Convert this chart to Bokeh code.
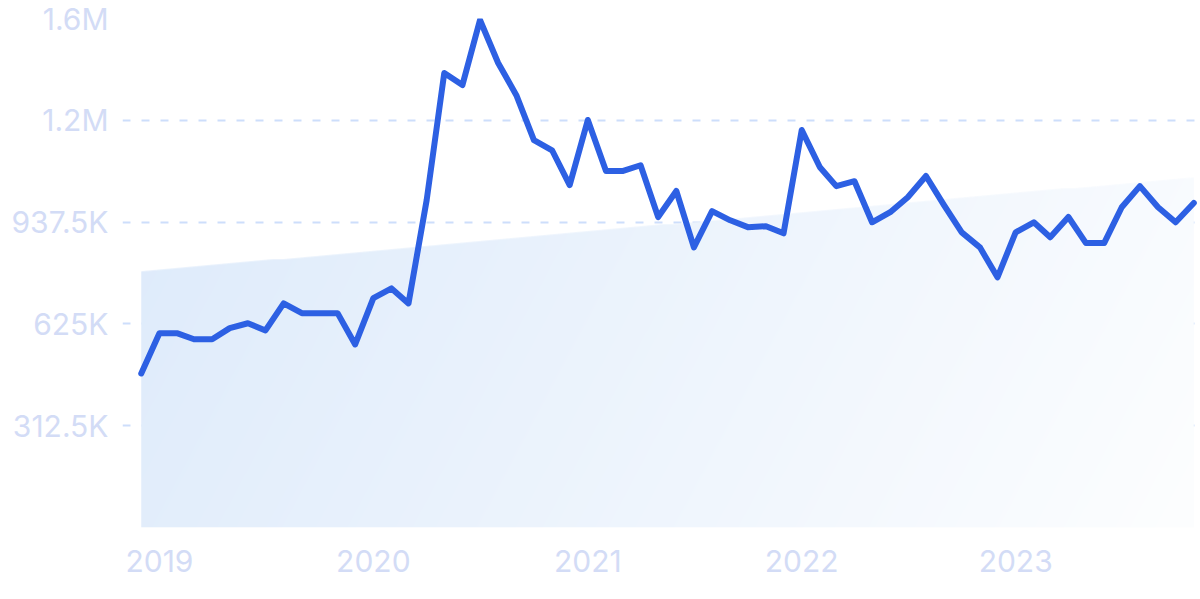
import numpy as np
import pandas as pd
from bokeh.plotting import figure
from bokeh.models import Range1d, FixedTicker, YearsTicker, DatetimeTickFormatter
from bokeh.embed import file_html
from bokeh.resources import INLINE

# ---- data ----
months = pd.date_range("2018-12-01", periods=60, freq="MS")
values = [473000, 596000, 596000, 578000, 578000, 612000, 627000, 605000, 688000, 658000,
          658000, 658000, 562000, 704000, 734000, 688000, 1005000, 1395000, 1358000, 1558000,
          1426000, 1327000, 1189000, 1158000, 1051000, 1251000, 1094000, 1094000, 1112000, 953000,
          1033000, 860000, 971000, 943000, 922000, 925000, 903000, 1220000, 1106000, 1048000,
          1063000, 937000, 968000, 1014000, 1079000, 989000, 906000, 860000, 768000, 906000,
          937000, 891000, 953000, 873000, 873000, 983000, 1048000, 983000, 937000, 996000]
trend = [785000, 1075000]  # trend value at first and last month
y_ticks = [312500, 625000, 937500, 1250000, 1562500]
y_tick_labels = ["312.5K", "625K", "937.5K", "1.2M", "1.6M"]

FONT = "Inter"
LABEL_COLOR = "#d3dcf6"

x0 = months[0]
x1 = months[-1]
x_start = x0 - pd.Timedelta(days=32)
x_end = x1 + pd.Timedelta(days=8)

p = figure(width=1200, height=599, x_axis_type="datetime",
           x_range=Range1d(x_start, x_end), y_range=Range1d(0, 1562500),
           output_backend="svg", toolbar_location=None,
           min_border_left=122, min_border_right=2, min_border_top=18, min_border_bottom=72)
p.outline_line_color = None
p.background_fill_color = "white"
p.border_fill_color = "white"

# ---- gradient fill under trend line (image masked by trend) ----
W, H = 1052, 360
dh = max(trend)
fx = (np.arange(W) + 0.5) / W
tr = trend[0] + (trend[1] - trend[0]) * fx          # trend per column
row_lo = np.arange(H) / H * dh
row_hi = (np.arange(H) + 1) / H * dh
cov = np.clip((tr[None, :] - row_lo[:, None]) / (row_hi - row_lo)[:, None], 0, 1)
g = 1 - (row_lo[:, None] + row_hi[:, None]) / 2 / dh  # 0 top, 1 bottom
t = np.clip(0.85 * fx[None, :] + 0.15 * g, 0, 1)
c0 = np.array([222, 235, 251])
c1 = np.array([253, 254, 255])
img = np.empty((H, W), dtype=np.uint32)
view = img.view(dtype=np.uint8).reshape((H, W, 4))
for k in range(3):
    view[:, :, k] = (c0[k] + (c1[k] - c0[k]) * t).astype(np.uint8)
view[:, :, 3] = (cov * 255).astype(np.uint8)
p.image_rgba(image=[img], x=x0, y=0, dw=(x1 - x0).total_seconds() * 1000, dh=dh)

# ---- line ----
p.line(months, values, line_color="#2d60e3", line_width=6, line_join="round", line_cap="round")

# ---- axes ----
p.yaxis.ticker = FixedTicker(ticks=y_ticks)
p.yaxis.major_label_overrides = {t_: l for t_, l in zip(y_ticks, y_tick_labels)}
p.xaxis.ticker = YearsTicker()
p.xaxis.formatter = DatetimeTickFormatter(years="%Y", months="%Y", days="%Y")
for ax in (p.xaxis[0], p.yaxis[0]):
    ax.axis_line_color = None
    ax.major_tick_line_color = None
    ax.minor_tick_line_color = None
    ax.major_tick_out = 0
    ax.major_tick_in = 0
    ax.major_label_text_font = FONT
    ax.major_label_text_font_size = "30px"
    ax.major_label_text_color = LABEL_COLOR
p.yaxis.major_label_standoff = 14
p.xaxis.major_label_standoff = 22

p.xgrid.grid_line_color = None
p.ygrid.ticker = FixedTicker(ticks=y_ticks)
p.ygrid.grid_line_color = "#cddefb"
p.ygrid.grid_line_width = 2
p.ygrid.grid_line_dash = "8 11"

open("out.html", "w").write(file_html(p, INLINE))
